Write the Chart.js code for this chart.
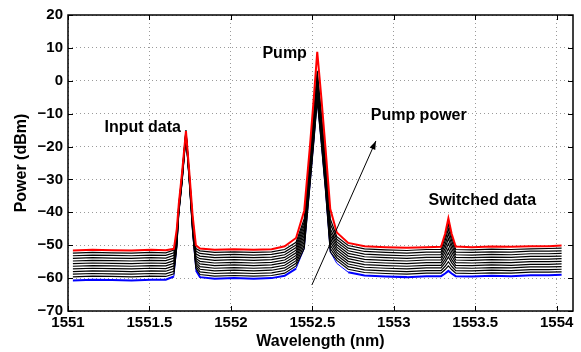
<!DOCTYPE html>
<html>
<head>
<meta charset="utf-8">
<script src="https://cdn.jsdelivr.net/npm/chart.js@4"></script>
<style>
html, body { margin: 0; padding: 0; background: #fff; }
</style>
</head>
<body>
<canvas id="myCanvas" width="581" height="352"></canvas>
<script>
// wavelength samples shared by every trace (nm)
const wavelength = [
    1551.03, 1551.15, 1551.27, 1551.39, 1551.51, 1551.60, 1551.65, 1551.668, 1551.68, 1551.70,
    1551.724, 1551.745, 1551.765, 1551.785, 1551.81, 1551.9, 1552.02, 1552.14, 1552.25, 1552.33,
    1552.40, 1552.45, 1552.485, 1552.51, 1552.53, 1552.555, 1552.58, 1552.61, 1552.65, 1552.72,
    1552.82, 1552.95, 1553.08, 1553.2, 1553.29, 1553.315, 1553.335, 1553.355, 1553.38, 1553.48,
    1553.6, 1553.72, 1553.84, 1553.95, 1554.03
];

// highest pump power (red)
const powerMax = [
    -51.6, -51.4, -51.5, -51.6, -51.4, -51.5, -51.1, -45, -37.5, -28, -15.3, -28, -41, -50, -51.0,
    -51.4, -51.2, -51.4, -51.2, -50.3, -47.8, -39.5, -20, -4.5, 8.8, -5, -20, -39, -46.1, -49.3,
    -50.3, -50.6, -50.8, -50.6, -50.5, -46.5, -41.8, -46.5, -50.4, -50.6, -50.4, -50.5, -50.3, -50.3, -50.1
];

// intermediate pump powers (black), high to low
const power1 = [
    -52.4, -52.2, -52.3, -52.4, -52.2, -52.3, -51.5, -46, -37.7, -28.3, -15.0, -28.3, -41.5, -51, -51.7,
    -52.2, -52.0, -52.2, -52.0, -51.3, -49.1, -42, -23, -9, 3, -10, -24, -42, -47.4, -50.1,
    -51.1, -51.4, -51.6, -51.3, -51.3, -47.5, -43.5, -47.5, -51.3, -51.4, -51.2, -51.3, -51.1, -51.0, -50.9
];
const power2 = [
    -53.2, -53.0, -53.1, -53.2, -53.0, -53.1, -52.3, -46.5, -38, -28.6, -15.2, -28.6, -42, -51.8, -52.5,
    -53.0, -52.8, -53.0, -52.8, -52.1, -49.9, -43, -24, -10, 2, -11, -25, -43.5, -48.2, -50.9,
    -51.9, -52.2, -52.4, -52.1, -52.1, -48.6, -45, -48.6, -52.1, -52.2, -52.0, -52.1, -51.8, -51.8, -51.7
];
const power3 = [
    -54.0, -53.8, -53.9, -54.0, -53.8, -53.9, -53.1, -47, -38.3, -28.9, -15.4, -28.9, -42.5, -52.6, -53.3,
    -53.8, -53.6, -53.8, -53.6, -52.9, -50.7, -44, -25, -11, 1, -12, -26, -45, -49, -51.7,
    -52.7, -53.0, -53.2, -52.9, -52.9, -49.8, -46.5, -49.8, -52.9, -53.0, -52.8, -52.9, -52.6, -52.6, -52.5
];
const power4 = [
    -54.8, -54.6, -54.7, -54.8, -54.6, -54.7, -53.9, -47.5, -38.6, -29.2, -15.6, -29.2, -43, -53.4, -54.1,
    -54.6, -54.4, -54.6, -54.4, -53.7, -51.5, -45, -26, -12, 0, -13, -27, -46, -49.8, -52.5,
    -53.5, -53.8, -54.0, -53.7, -53.7, -50.9, -48, -50.9, -53.7, -53.8, -53.6, -53.7, -53.4, -53.4, -53.3
];
const power5 = [
    -55.6, -55.4, -55.5, -55.6, -55.4, -55.5, -54.7, -48, -38.9, -29.5, -15.8, -29.5, -43.5, -54, -54.9,
    -55.4, -55.2, -55.4, -55.2, -54.5, -52.3, -46, -27, -13, -1, -14, -28, -47, -50.6, -53.3,
    -54.3, -54.6, -54.8, -54.5, -54.5, -52.1, -49.5, -52.1, -54.5, -54.6, -54.4, -54.5, -54.2, -54.2, -54.1
];
const power6 = [
    -56.4, -56.2, -56.3, -56.4, -56.2, -56.3, -55.5, -48.5, -39.2, -29.8, -16.0, -29.8, -44, -54.6, -55.7,
    -56.2, -56.0, -56.2, -56.0, -55.3, -53.1, -47, -28, -14, -2, -15, -29, -48, -51.4, -54.1,
    -55.1, -55.4, -55.6, -55.3, -55.3, -53.2, -51, -53.2, -55.3, -55.4, -55.2, -55.3, -55.0, -55.0, -54.9
];
const power7 = [
    -57.2, -57.0, -57.1, -57.2, -57.0, -57.1, -56.3, -49, -39.5, -30.1, -16.2, -30.1, -44.5, -55.2, -56.5,
    -57.0, -56.8, -57.0, -56.8, -56.1, -53.9, -48, -29, -15, -3, -16, -30, -49, -52.2, -54.9,
    -55.9, -56.2, -56.4, -56.1, -56.1, -54.3, -52.3, -54.3, -56.1, -56.2, -56.0, -56.1, -55.8, -55.8, -55.7
];
const power8 = [
    -58.0, -57.8, -57.9, -58.0, -57.8, -57.9, -57.1, -49.5, -39.8, -30.4, -16.4, -30.4, -45, -55.8, -57.3,
    -57.8, -57.6, -57.8, -57.6, -56.9, -54.7, -49, -30, -16, -4, -17, -31, -50, -53, -55.7,
    -56.7, -57.0, -57.2, -56.9, -56.9, -55.3, -53.6, -55.3, -56.9, -57.0, -56.8, -56.9, -56.6, -56.6, -56.5
];
const power9 = [
    -58.8, -58.6, -58.7, -58.8, -58.6, -58.7, -57.9, -50, -40.1, -30.7, -16.6, -30.7, -45.5, -56.4, -58.1,
    -58.6, -58.4, -58.6, -58.4, -57.7, -55.5, -50, -31, -17, -5, -18, -32, -51, -53.8, -56.5,
    -57.5, -57.8, -58.0, -57.7, -57.7, -56.4, -55, -56.4, -57.7, -57.8, -57.6, -57.7, -57.4, -57.4, -57.3
];
const power10 = [
    -59.6, -59.4, -59.5, -59.6, -59.4, -59.5, -58.7, -50.5, -40.4, -31, -16.8, -31, -46, -57, -58.9,
    -59.4, -59.2, -59.4, -59.2, -58.5, -56.3, -51, -32, -18, -6, -19, -33, -52, -54.6, -57.3,
    -58.3, -58.6, -58.8, -58.5, -58.5, -57.4, -56.3, -57.4, -58.5, -58.6, -58.4, -58.5, -58.2, -58.2, -58.1
];

// lowest pump power (blue); its peaks sit under the black traces
const powerMin = [
    -60.7, -60.5, -60.6, -60.7, -60.5, -60.5, -59.5, -50.5, -40.4, -31, -16.8, -31, -46, -57.6, -59.7,
    -60.2, -60.0, -60.2, -60.0, -59.3, -57.1, -51, -32, -18, -6, -19, -33, -52, -55.5, -58.2,
    -59.2, -59.5, -59.7, -59.4, -59.4, -58.6, -57.8, -58.6, -59.4, -59.5, -59.3, -59.4, -59.1, -59.1, -59.0
];

const blackTraces = [power1, power2, power3, power4, power5, power6, power7, power8, power9, power10];

const xTicks = [1551, 1551.5, 1552, 1552.5, 1553, 1553.5, 1554];
const yTicks = [-70, -60, -50, -40, -30, -20, -10, 0, 10, 20];

const labels = ['Input data', 'Pump', 'Pump power', 'Switched data'];

function toPoints(values)
{
    return wavelength.map((w, i) => ({ x: w, y: values[i] }));
}

function fmt(v)
{
    return v < 0 ? '\u2212' + Math.abs(v) : String(v);
}

// red on top, blue underneath the black ones (thin on the peaks so it stays hidden)
var datasets = [
    { data: toPoints(powerMax), borderColor: '#ff0000', borderWidth: 2, order: 0 },
    {
        data: toPoints(powerMin), borderColor: '#0000ff', borderWidth: 2, order: 2,
        segment: { borderWidth: (s) => (s.p0.parsed.y > -56 || s.p1.parsed.y > -56) ? 1 : 2 }
    }
];
blackTraces.forEach(t => {
    datasets.push({ data: toPoints(t), borderColor: '#000000', borderWidth: 1.2, order: 1 });
});

// frame, inward ticks, text labels and the arrow
const decorations = {
    id: 'decorations',
    afterDraw(chart) {
        const ctx = chart.ctx;
        const xs = chart.scales.x, ys = chart.scales.y;
        const a = chart.chartArea;
        ctx.save();
        ctx.strokeStyle = '#000';
        ctx.lineWidth = 1;
        xTicks.forEach(v => {
            const px = Math.round(xs.getPixelForValue(v)) + 0.5;
            ctx.beginPath();
            ctx.moveTo(px, a.bottom); ctx.lineTo(px, a.bottom - 5);
            ctx.moveTo(px, a.top); ctx.lineTo(px, a.top + 5);
            ctx.stroke();
        });
        yTicks.forEach(v => {
            const py = Math.round(ys.getPixelForValue(v)) + 0.5;
            ctx.beginPath();
            ctx.moveTo(a.left, py); ctx.lineTo(a.left + 5, py);
            ctx.moveTo(a.right, py); ctx.lineTo(a.right - 5, py);
            ctx.stroke();
        });
        ctx.lineWidth = 1.5;
        ctx.strokeRect(a.left, a.top, a.right - a.left, a.bottom - a.top);

        // labels
        const spots = [[1551.459, -14.2], [1552.33, 8.4], [1553.153, -10.7], [1553.543, -36.5]];
        ctx.fillStyle = '#000';
        ctx.font = 'bold 16px "Liberation Sans", Arial, sans-serif';
        ctx.textAlign = 'center';
        ctx.textBaseline = 'middle';
        labels.forEach((t, i) => {
            ctx.fillText(t, xs.getPixelForValue(spots[i][0]), ys.getPixelForValue(spots[i][1]));
        });

        // arrow for increasing pump power
        const x0 = xs.getPixelForValue(1552.497), y0 = ys.getPixelForValue(-62.1);
        const x1 = xs.getPixelForValue(1552.89), y1 = ys.getPixelForValue(-18.3);
        const ang = Math.atan2(y1 - y0, x1 - x0);
        ctx.lineWidth = 1;
        ctx.beginPath();
        ctx.moveTo(x0, y0); ctx.lineTo(x1, y1);
        ctx.stroke();
        ctx.beginPath();
        ctx.moveTo(x1, y1);
        ctx.lineTo(x1 - 9 * Math.cos(ang - 0.35), y1 - 9 * Math.sin(ang - 0.35));
        ctx.lineTo(x1 - 9 * Math.cos(ang + 0.35), y1 - 9 * Math.sin(ang + 0.35));
        ctx.closePath();
        ctx.fill();
        ctx.restore();
    }
};

Chart.defaults.font.family = '"Liberation Sans", Arial, sans-serif';
Chart.defaults.color = '#000';

var ctx = document.getElementById('myCanvas').getContext('2d');
var myChart = new Chart(ctx, {
    type: 'line',
    data: { datasets: datasets },
    options: {
        responsive: false,
        animation: false,
        layout: { padding: { top: 15, right: 8, left: 0, bottom: 0 } },
        elements: { point: { radius: 0 }, line: { tension: 0 } },
        plugins: { legend: { display: false }, tooltip: { enabled: false } },
        scales: {
            x: {
                type: 'linear',
                min: 1551,
                max: 1554.1,
                afterBuildTicks: (s) => { s.ticks = xTicks.map(v => ({ value: v })); },
                afterFit: (s) => { s.height = 41; },
                ticks: {
                    callback: (v) => String(v),
                    font: { size: 15, weight: 'bold' },
                    padding: 3,
                    maxRotation: 0
                },
                grid: { color: '#9a9a9a', lineWidth: 1, drawTicks: false },
                border: { display: false, dash: [1, 3] },
                title: {
                    display: true,
                    text: 'Wavelength (nm)',
                    font: { size: 16, weight: 'bold' },
                    padding: { top: 0, bottom: 1 }
                }
            },
            y: {
                min: -70,
                max: 20,
                afterBuildTicks: (s) => { s.ticks = yTicks.map(v => ({ value: v })); },
                afterFit: (s) => { s.width = 68; },
                ticks: {
                    callback: (v) => fmt(v),
                    font: { size: 15, weight: 'bold' },
                    padding: 5
                },
                grid: { color: '#9a9a9a', lineWidth: 1, drawTicks: false },
                border: { display: false, dash: [1, 3] },
                title: {
                    display: true,
                    text: 'Power (dBm)',
                    font: { size: 16, weight: 'bold' },
                    padding: { top: 12, bottom: 0 }
                }
            }
        }
    },
    plugins: [decorations]
});
</script>
</body>
</html>
